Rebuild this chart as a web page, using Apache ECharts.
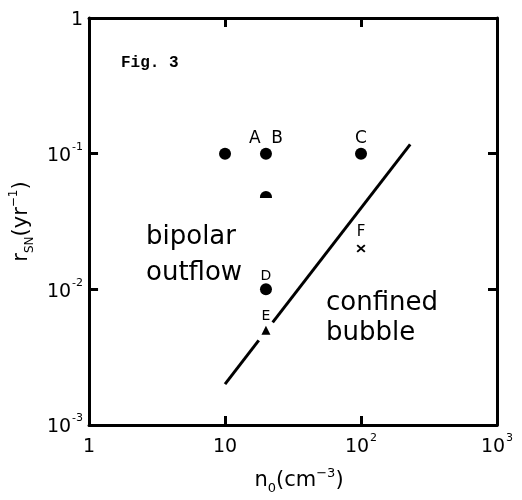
<!DOCTYPE html>
<html>
<head>
<meta charset="utf-8">
<script src="https://cdn.jsdelivr.net/npm/echarts@6/dist/echarts.min.js"></script>
<style>html,body{margin:0;padding:0;background:#fff;}#c{width:522px;height:500px;}</style>
</head>
<body>
<div id="c"></div>
<script>
// ---- data ----
const xTickValues = [1, 10, 100, 1000];
const xTickLabels = ['1', '10', '10^2', '10^3'];
const yTickValues = [0.001, 0.01, 0.1, 1];
const yTickLabels = ['10^-3', '10^-2', '10^-1', '1'];

const circleX = [10, 20, 100, 20];
const circleY = [0.1, 0.1, 0.1, 0.01];
const circleLabels = ['', 'A  B', 'C', 'D'];

const domeX = [20];
const domeY = [0.05];

const triangleX = [20];
const triangleY = [0.005];
const triangleLabels = ['E'];

const crossX = [100];
const crossY = [0.02];
const crossLabels = ['F'];

// boundary line (drawn in two pieces, broken around label E)
const boundaryLowX = [10, 17.7];
const boundaryLowY = [0.002, 0.0042];
const boundaryHighX = [22.4, 230];
const boundaryHighY = [0.0057, 0.117];

// ---- helpers ----
function toRich(s) {
  const i = s.indexOf('^');
  if (i < 0) return '{b|' + s + '}';
  return '{b|' + s.slice(0, i) + '}{s|' + s.slice(i + 1) + '}';
}
function labelFor(values, labels) {
  return function (v) {
    for (let k = 0; k < values.length; k++) {
      if (Math.abs(Math.log10(v) - Math.log10(values[k])) < 1e-6) return toRich(labels[k]);
    }
    return '';
  };
}
function pairs(xs, ys) { return xs.map((x, i) => [x, ys[i]]); }

const FONT = 'DejaVu Sans';
const tickRich = {
  b: { fontSize: 19, fontFamily: FONT, color: '#000', lineHeight: 24, verticalAlign: 'bottom' },
  s: { fontSize: 11, fontFamily: FONT, color: '#000', lineHeight: 24, verticalAlign: 'top', padding: [0, 0, 0, 1] }
};

const axisLineStyle = { color: '#000', width: 3 };
const tickStyle = { show: true, inside: true, length: 9, lineStyle: { color: '#000', width: 3 } };
const markStyle = { color: '#000', opacity: 1 };

const chart = echarts.init(document.getElementById('c'), null, { renderer: 'canvas' });

const option = {
  backgroundColor: '#fff',
  animation: false,
  grid: { left: 88, top: 18, right: 25, bottom: 75, containLabel: false },
  xAxis: [
    {
      type: 'log', logBase: 10, min: 1, max: 1000, position: 'bottom',
      axisLine: { show: true, lineStyle: axisLineStyle },
      axisTick: tickStyle,
      minorTick: { show: false },
      splitLine: { show: false },
      axisLabel: { formatter: labelFor(xTickValues, xTickLabels), rich: tickRich, margin: 8 },
      name: '{b|n}{sub|0}{b|(cm}{sup|−3}{b|)}',
      nameLocation: 'middle', nameGap: 42,
      nameTextStyle: {
        padding: [0, 0, 0, 12],
        rich: {
          b: { fontSize: 21, fontFamily: FONT, color: '#000', lineHeight: 28, verticalAlign: 'middle' },
          sub: { fontSize: 13, fontFamily: FONT, color: '#000', lineHeight: 28, verticalAlign: 'bottom' },
          sup: { fontSize: 13, fontFamily: FONT, color: '#000', lineHeight: 28, verticalAlign: 'top' }
        }
      }
    },
    {
      type: 'log', logBase: 10, min: 1, max: 1000, position: 'top',
      axisLine: { show: true, lineStyle: axisLineStyle },
      axisTick: tickStyle,
      splitLine: { show: false },
      axisLabel: { show: false }
    }
  ],
  yAxis: [
    {
      type: 'log', logBase: 10, min: 0.001, max: 1, position: 'left',
      axisLine: { show: true, lineStyle: axisLineStyle },
      axisTick: tickStyle,
      splitLine: { show: false },
      axisLabel: { formatter: labelFor(yTickValues, yTickLabels), rich: tickRich, margin: 6 },
      name: '{b|r}{sub|SN}{b|(yr}{sup|−1}{b|)}',
      nameLocation: 'middle', nameGap: 52, nameRotate: 90,
      nameTextStyle: {
        rich: {
          b: { fontSize: 21, fontFamily: FONT, color: '#000', lineHeight: 28, verticalAlign: 'middle' },
          sub: { fontSize: 12, fontFamily: FONT, color: '#000', lineHeight: 28, verticalAlign: 'bottom' },
          sup: { fontSize: 12, fontFamily: FONT, color: '#000', lineHeight: 28, verticalAlign: 'top' }
        }
      }
    },
    {
      type: 'log', logBase: 10, min: 0.001, max: 1, position: 'right',
      axisLine: { show: true, lineStyle: axisLineStyle },
      axisTick: tickStyle,
      splitLine: { show: false },
      axisLabel: { show: false }
    }
  ],
  series: [
    {
      type: 'line', xAxisIndex: 0, yAxisIndex: 0, symbol: 'none',
      lineStyle: { color: '#000', width: 3 },
      data: pairs(boundaryLowX, boundaryLowY), z: 2
    },
    {
      type: 'line', xAxisIndex: 0, yAxisIndex: 0, symbol: 'none',
      lineStyle: { color: '#000', width: 3 },
      data: pairs(boundaryHighX, boundaryHighY), z: 2
    },
    {
      type: 'scatter', symbol: 'circle', symbolSize: 12,
      itemStyle: markStyle,
      data: pairs(circleX, circleY).map((p, i) => ({
        value: p,
        label: {
          show: circleLabels[i] !== '', formatter: circleLabels[i], position: 'top',
          distance: i === 3 ? 0 : 1,
          fontFamily: FONT, fontSize: i === 3 ? 14 : 17, color: '#000'
        }
      })),
      z: 3
    },
    {
      type: 'scatter', symbol: 'path://M0,10 A10,10 0 0 1 20,10 L20,11 L0,11 Z', symbolSize: [12, 7],
      itemStyle: markStyle,
      data: pairs(domeX, domeY), z: 3
    },
    {
      type: 'scatter', symbol: 'triangle', symbolSize: [9, 9],
      itemStyle: markStyle,
      data: pairs(triangleX, triangleY).map((p, i) => ({
        value: p,
        label: { show: true, formatter: triangleLabels[i], position: 'top', distance: 2, fontFamily: FONT, fontSize: 14, color: '#000' }
      })),
      z: 3
    },
    {
      type: 'scatter',
      symbol: 'path://M0,1.5 L1.5,0 L5,3.5 L8.5,0 L10,1.5 L6.5,5 L10,8.5 L8.5,10 L5,6.5 L1.5,10 L0,8.5 L3.5,5 Z',
      symbolSize: [9, 8],
      itemStyle: markStyle,
      data: pairs(crossX, crossY).map((p, i) => ({
        value: p,
        label: { show: true, formatter: crossLabels[i], position: 'top', distance: 5, fontFamily: FONT, fontSize: 15, color: '#000' }
      })),
      z: 3
    }
  ],
  graphic: [
    { type: 'text', left: 121, top: 55, style: { text: 'Fig. 3', font: 'bold 16px "Liberation Mono"', fill: '#000' } },
    { type: 'text', left: 146, top: 224, style: { text: 'bipolar', font: '26px "DejaVu Sans"', fill: '#000' } },
    { type: 'text', left: 146, top: 260, style: { text: 'outflow', font: '26px "DejaVu Sans"', fill: '#000' } },
    { type: 'text', left: 326, top: 290, style: { text: 'confined', font: '26px "DejaVu Sans"', fill: '#000' } },
    { type: 'text', left: 326, top: 320, style: { text: 'bubble', font: '26px "DejaVu Sans"', fill: '#000' } }
  ]
};
chart.setOption(option);
</script>
</body>
</html>
